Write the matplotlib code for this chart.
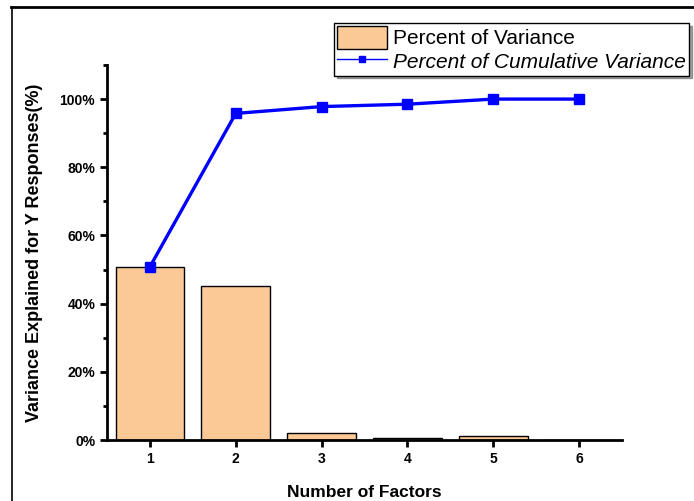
import matplotlib
matplotlib.use("Agg")
import matplotlib.pyplot as plt
from matplotlib.lines import Line2D
from matplotlib.patches import Patch
from matplotlib.ticker import MultipleLocator, FuncFormatter

factors = [1, 2, 3, 4, 5, 6]
variance_pct = [50.8, 45.1, 2.1, 0.7, 1.3, 0.1]
cumulative_pct = [50.8, 95.8, 97.8, 98.5, 100.0, 100.0]
x_ticklabels = ["1", "2", "3", "4", "5", "6"]

bar_color = "#fbc996"
line_color = "#0000ff"

plt.rcParams["font.family"] = ["Liberation Sans", "DejaVu Sans"]

fig = plt.figure(figsize=(6.94, 5.01), dpi=100)
ax = fig.add_axes([107 / 694, 61 / 501, 515 / 694, 375 / 501])

ax.bar(factors, variance_pct, width=0.8, color=bar_color,
       edgecolor="black", linewidth=1.0)
ax.plot(factors, cumulative_pct, color=line_color, linewidth=2.4,
        marker="s", markersize=6.5)

ax.set_xlim(0.5, 6.5)
ax.set_ylim(0, 110)
ax.set_xticks(factors)
ax.set_xticklabels(x_ticklabels)
ax.yaxis.set_major_locator(MultipleLocator(20))
ax.yaxis.set_minor_locator(MultipleLocator(10))
ax.yaxis.set_major_formatter(FuncFormatter(lambda v, _: f"{v:.0f}%" if v <= 100 else ""))

for side in ("top", "right"):
    ax.spines[side].set_visible(False)
for side in ("left", "bottom"):
    ax.spines[side].set_linewidth(2.0)
ax.tick_params(axis="both", which="major", direction="out", length=5, width=2.0,
               labelsize=10)
ax.tick_params(axis="y", which="minor", direction="out", length=3, width=2.0)
for lbl in ax.get_xticklabels() + ax.get_yticklabels():
    lbl.set_fontweight("bold")

ax.set_xlabel("Number of Factors", fontsize=12.5, fontweight="bold", labelpad=14)
ax.set_ylabel("Variance Explained for Y Responses(%)", fontsize=13,
              fontweight="bold", labelpad=12)

# legend handles mimic the thin line / small marker of the original
handles = [
    Patch(facecolor=bar_color, edgecolor="black", linewidth=1.0),
    Line2D([], [], color=line_color, linewidth=1.0, marker="s", markersize=4),
]
labels = ["Percent of Variance", "Percent of Cumulative Variance"]
leg = fig.legend(handles, labels, loc="upper left",
                 bbox_to_anchor=(334 / 694, 1 - 23 / 501), fontsize=15,
                 frameon=True, fancybox=False, shadow=True, borderpad=0.15,
                 handlelength=2.4, handleheight=1.3, handletextpad=0.3,
                 labelspacing=0.05, borderaxespad=0)
leg.get_frame().set_edgecolor("black")
leg.get_frame().set_linewidth(1.0)
leg.get_texts()[1].set_fontstyle("italic")

# outer frame lines (top and left edges of the original figure border)
fig.add_artist(Line2D([11 / 694, 1], [1 - 7 / 501, 1 - 7 / 501],
                      color="black", linewidth=2.0, transform=fig.transFigure))
fig.add_artist(Line2D([12 / 694, 12 / 694], [0, 1 - 7 / 501],
                      color="black", linewidth=1.2, transform=fig.transFigure))

fig.savefig("out.png", dpi=100)
